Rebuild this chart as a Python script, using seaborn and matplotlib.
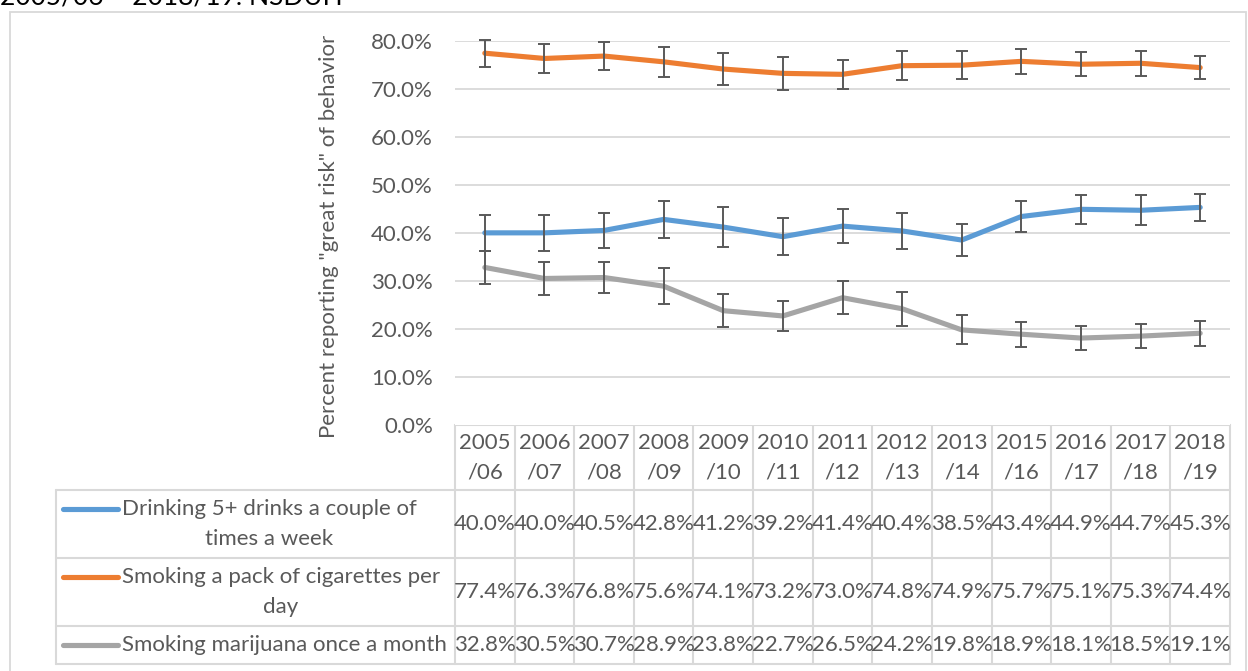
import matplotlib
matplotlib.use("Agg")
import matplotlib.pyplot as plt
import matplotlib.patches as mpatches
from matplotlib.ticker import FuncFormatter
import seaborn as sns
import pandas as pd

# survey periods (x axis / table header)
periods = ["2005/06", "2006/07", "2007/08", "2008/09", "2009/10", "2010/11", "2011/12",
           "2012/13", "2013/14", "2015/16", "2016/17", "2017/18", "2018/19"]

series_names = ["Drinking 5+ drinks a couple of times a week",
                "Smoking a pack of cigarettes per day",
                "Smoking marijuana once a month"]
legend_labels = ["Drinking 5+ drinks a couple of\ntimes a week",
                 "Smoking a pack of cigarettes per\nday",
                 "Smoking marijuana once a month"]

# percent reporting "great risk"
drinking = [40.0, 40.0, 40.5, 42.8, 41.2, 39.2, 41.4, 40.4, 38.5, 43.4, 44.9, 44.7, 45.3]
cigarettes = [77.4, 76.3, 76.8, 75.6, 74.1, 73.2, 73.0, 74.8, 74.9, 75.7, 75.1, 75.3, 74.4]
marijuana = [32.8, 30.5, 30.7, 28.9, 23.8, 22.7, 26.5, 24.2, 19.8, 18.9, 18.1, 18.5, 19.1]

# error bar half-widths
drinking_err = [3.7, 3.7, 3.6, 3.8, 4.1, 3.8, 3.5, 3.8, 3.4, 3.15, 3.0, 3.1, 2.8]
cigarettes_err = [2.8, 3.0, 2.9, 3.15, 3.4, 3.4, 3.0, 3.0, 2.9, 2.6, 2.55, 2.6, 2.4]
marijuana_err = [3.5, 3.5, 3.3, 3.75, 3.5, 3.05, 3.4, 3.5, 3.0, 2.6, 2.5, 2.5, 2.6]

values = [drinking, cigarettes, marijuana]
errors = [drinking_err, cigarettes_err, marijuana_err]
colors = ["#5B9BD5", "#ED7D31", "#A5A5A5"]

TEXT = "#595959"
GRID = "#D9D9D9"
FONT = "Lato"
FS = 16

rows = []
for name, vals in zip(series_names, values):
    for i, v in enumerate(vals):
        rows.append({"idx": i, "period": periods[i], "series": name, "value": v})
df = pd.DataFrame(rows)

sns.set_theme(style="white")
plt.rcParams["font.family"] = [FONT, "DejaVu Sans"]

W, H = 1248, 671
fig = plt.figure(figsize=(W / 100, H / 100), dpi=100)

# layout in pixels
plot_left, plot_right = 455, 1230
plot_top, plot_bottom = 40.7, 425
ax = fig.add_axes([plot_left / W, 1 - plot_bottom / H,
                   (plot_right - plot_left) / W, (plot_bottom - plot_top) / H])

sns.lineplot(data=df, x="idx", y="value", hue="series", hue_order=series_names,
             palette=dict(zip(series_names, colors)), linewidth=3.7,
             legend=False, ax=ax, zorder=3)
for vals, errs in zip(values, errors):
    ax.errorbar(range(len(vals)), vals, yerr=errs, fmt="none", ecolor=TEXT,
                elinewidth=1.4, capsize=4, capthick=1.4, clip_on=False, zorder=4)

ax.set_xlim(-0.5, len(periods) - 0.5)
ax.set_ylim(0, 80)
ax.set_yticks(range(0, 81, 10))
ax.yaxis.set_major_formatter(FuncFormatter(lambda v, p: f"{v:.1f}%"))
ax.set_xticks([])
ax.set_xlabel("")
ax.tick_params(axis="y", length=0, pad=16, labelsize=FS, labelcolor=TEXT)
for s in ax.spines.values():
    s.set_visible(False)
for t in range(10, 81, 10):
    ax.axhline(t, color=GRID, linewidth=1.3, zorder=1)
ax.set_ylabel('Percent reporting "great risk" of behavior', fontsize=FS, color=TEXT)
ax.yaxis.set_label_coords(-0.15, 0.49)

# data table below the plot, drawn in pixel coordinates
tab = fig.add_axes([0, 0, 1, 1], zorder=-1)
tab.set_xlim(0, W)
tab.set_ylim(H, 0)
tab.axis("off")

tab.add_patch(mpatches.Rectangle((10, 12), 1236, 660, fill=False,
                                 edgecolor=GRID, linewidth=1.3))

n = len(periods)
col_w = (plot_right - plot_left) / n
row_edges = [425, 490, 558, 626, 664]
legend_left = 56

tab.plot([plot_left, plot_right], [row_edges[0]] * 2, color=GRID, lw=1.5)
for y in row_edges[1:]:
    tab.plot([legend_left, plot_right], [y, y], color=GRID, lw=1.5)
for k in range(n + 1):
    x = plot_left + k * col_w
    tab.plot([x, x], [row_edges[0], row_edges[-1]], color=GRID, lw=1.5)
tab.plot([legend_left, legend_left], [row_edges[1], row_edges[-1]], color=GRID, lw=1.5)

for k, p in enumerate(periods):
    cx = plot_left + (k + 0.5) * col_w
    yr, tail = p.split("/")
    tab.text(cx, (row_edges[0] + row_edges[1]) / 2, f"{yr}\n/{tail}", ha="center",
             va="center", fontsize=FS, color=TEXT, linespacing=1.6)

for r, (lab, vals, c) in enumerate(zip(legend_labels, values, colors)):
    cy = (row_edges[r + 1] + row_edges[r + 2]) / 2
    ly = cy if "\n" not in lab else cy - 15
    tab.plot([63, 118], [ly, ly], color=c, lw=3.7, solid_capstyle="round")
    tab.text(122, cy, lab, ha="left", va="center", multialignment="center",
             fontsize=FS, color=TEXT, linespacing=1.6)
    for k, v in enumerate(vals):
        cx = plot_left + (k + 0.5) * col_w
        tab.text(cx, cy, f"{v:.1f}%", ha="center", va="center", fontsize=FS, color=TEXT)

fig.text(0, 1 - 5 / H, "2005/06 \u2013 2018/19: NSDUH", ha="left", va="baseline",
         fontsize=19, color="black")

fig.savefig("out.png", dpi=100)
